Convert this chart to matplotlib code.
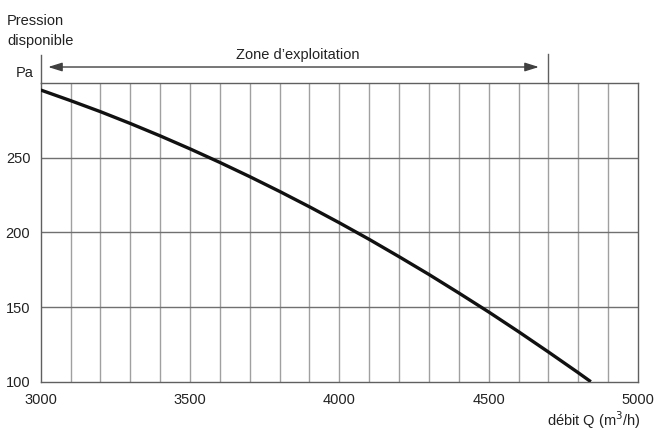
import matplotlib
matplotlib.use('Agg')
import matplotlib.pyplot as plt
import numpy as np

plt.rcParams['font.family'] = ['Liberation Sans', 'DejaVu Sans']

# débit Q (m3/h) vs pression disponible (Pa)
debit = [3000, 3100, 3200, 3300, 3400, 3500, 3600, 3700, 3800, 3900,
         4000, 4100, 4200, 4300, 4400, 4500, 4600, 4700, 4800, 4842]
pression = [295.3, 288.2, 280.8, 272.9, 264.6, 255.9, 246.8, 237.3, 227.4,
            217.1, 206.4, 195.3, 183.7, 171.8, 159.4, 146.7, 133.5, 119.9,
            106.0, 100.0]

x_ticks = [3000, 3500, 4000, 4500, 5000]
y_ticks = [100, 150, 200, 250]
zone_start, zone_end = 3000, 4700

fig = plt.figure(figsize=(6.56, 4.30), dpi=100)
ax = fig.add_axes([0.062, 0.1123, 0.9106, 0.6947])

ax.set_xlim(3000, 5000)
ax.set_ylim(100, 300)

# grid: thin vertical lines every 100 m3/h, horizontal lines at y ticks
for xv in np.arange(3100, 5000, 100):
    ax.axvline(xv, color='#a0a0a0', lw=1.0, zorder=1)
for yv in y_ticks[1:]:
    ax.axhline(yv, color='#707070', lw=1.0, zorder=1)

for side in ['left', 'bottom', 'top', 'right']:
    ax.spines[side].set_color('#606060')
    ax.spines[side].set_linewidth(1.0)

ax.plot(debit, pression, color='#111111', lw=2.4, zorder=3,
        solid_capstyle='butt', solid_joinstyle='round')

ax.set_xticks(x_ticks)
ax.set_yticks(y_ticks)
ax.tick_params(length=0, labelsize=10.5, labelcolor='#222222')
ax.tick_params(axis='x', pad=8)
ax.tick_params(axis='y', pad=7.5)

# lines above the box: left spine and zone limit
ax.plot([3000, 3000], [300, 318.7], color='#606060', lw=1.0, clip_on=False)
ax.plot([zone_end, zone_end], [300, 319.4], color='#606060', lw=1.0,
        clip_on=False)

ax.annotate('', xy=(3025, 310.7), xytext=(4668, 310.7),
            arrowprops=dict(arrowstyle='<|-|>,head_length=0.7,head_width=0.22',
                            color='#404040', lw=1.0, mutation_scale=12,
                            shrinkA=0, shrinkB=0),
            annotation_clip=False)
ax.text(3860, 318.7, 'Zone d’exploitation', ha='center', va='center',
        fontsize=10.5, color='#222222')

fig.text(0.011, 0.927, 'Pression\ndisponible', ha='left', va='center',
         fontsize=10.5, linespacing=1.55, color='#222222')
fig.text(0.051, 0.830, 'Pa', ha='right', va='center', fontsize=10.5,
         color='#222222')
fig.text(0.976, 0.023, 'débit Q (m$^{3}$/h)', ha='right', va='center',
         fontsize=10.5, color='#222222')

fig.savefig('out.png', dpi=100)
